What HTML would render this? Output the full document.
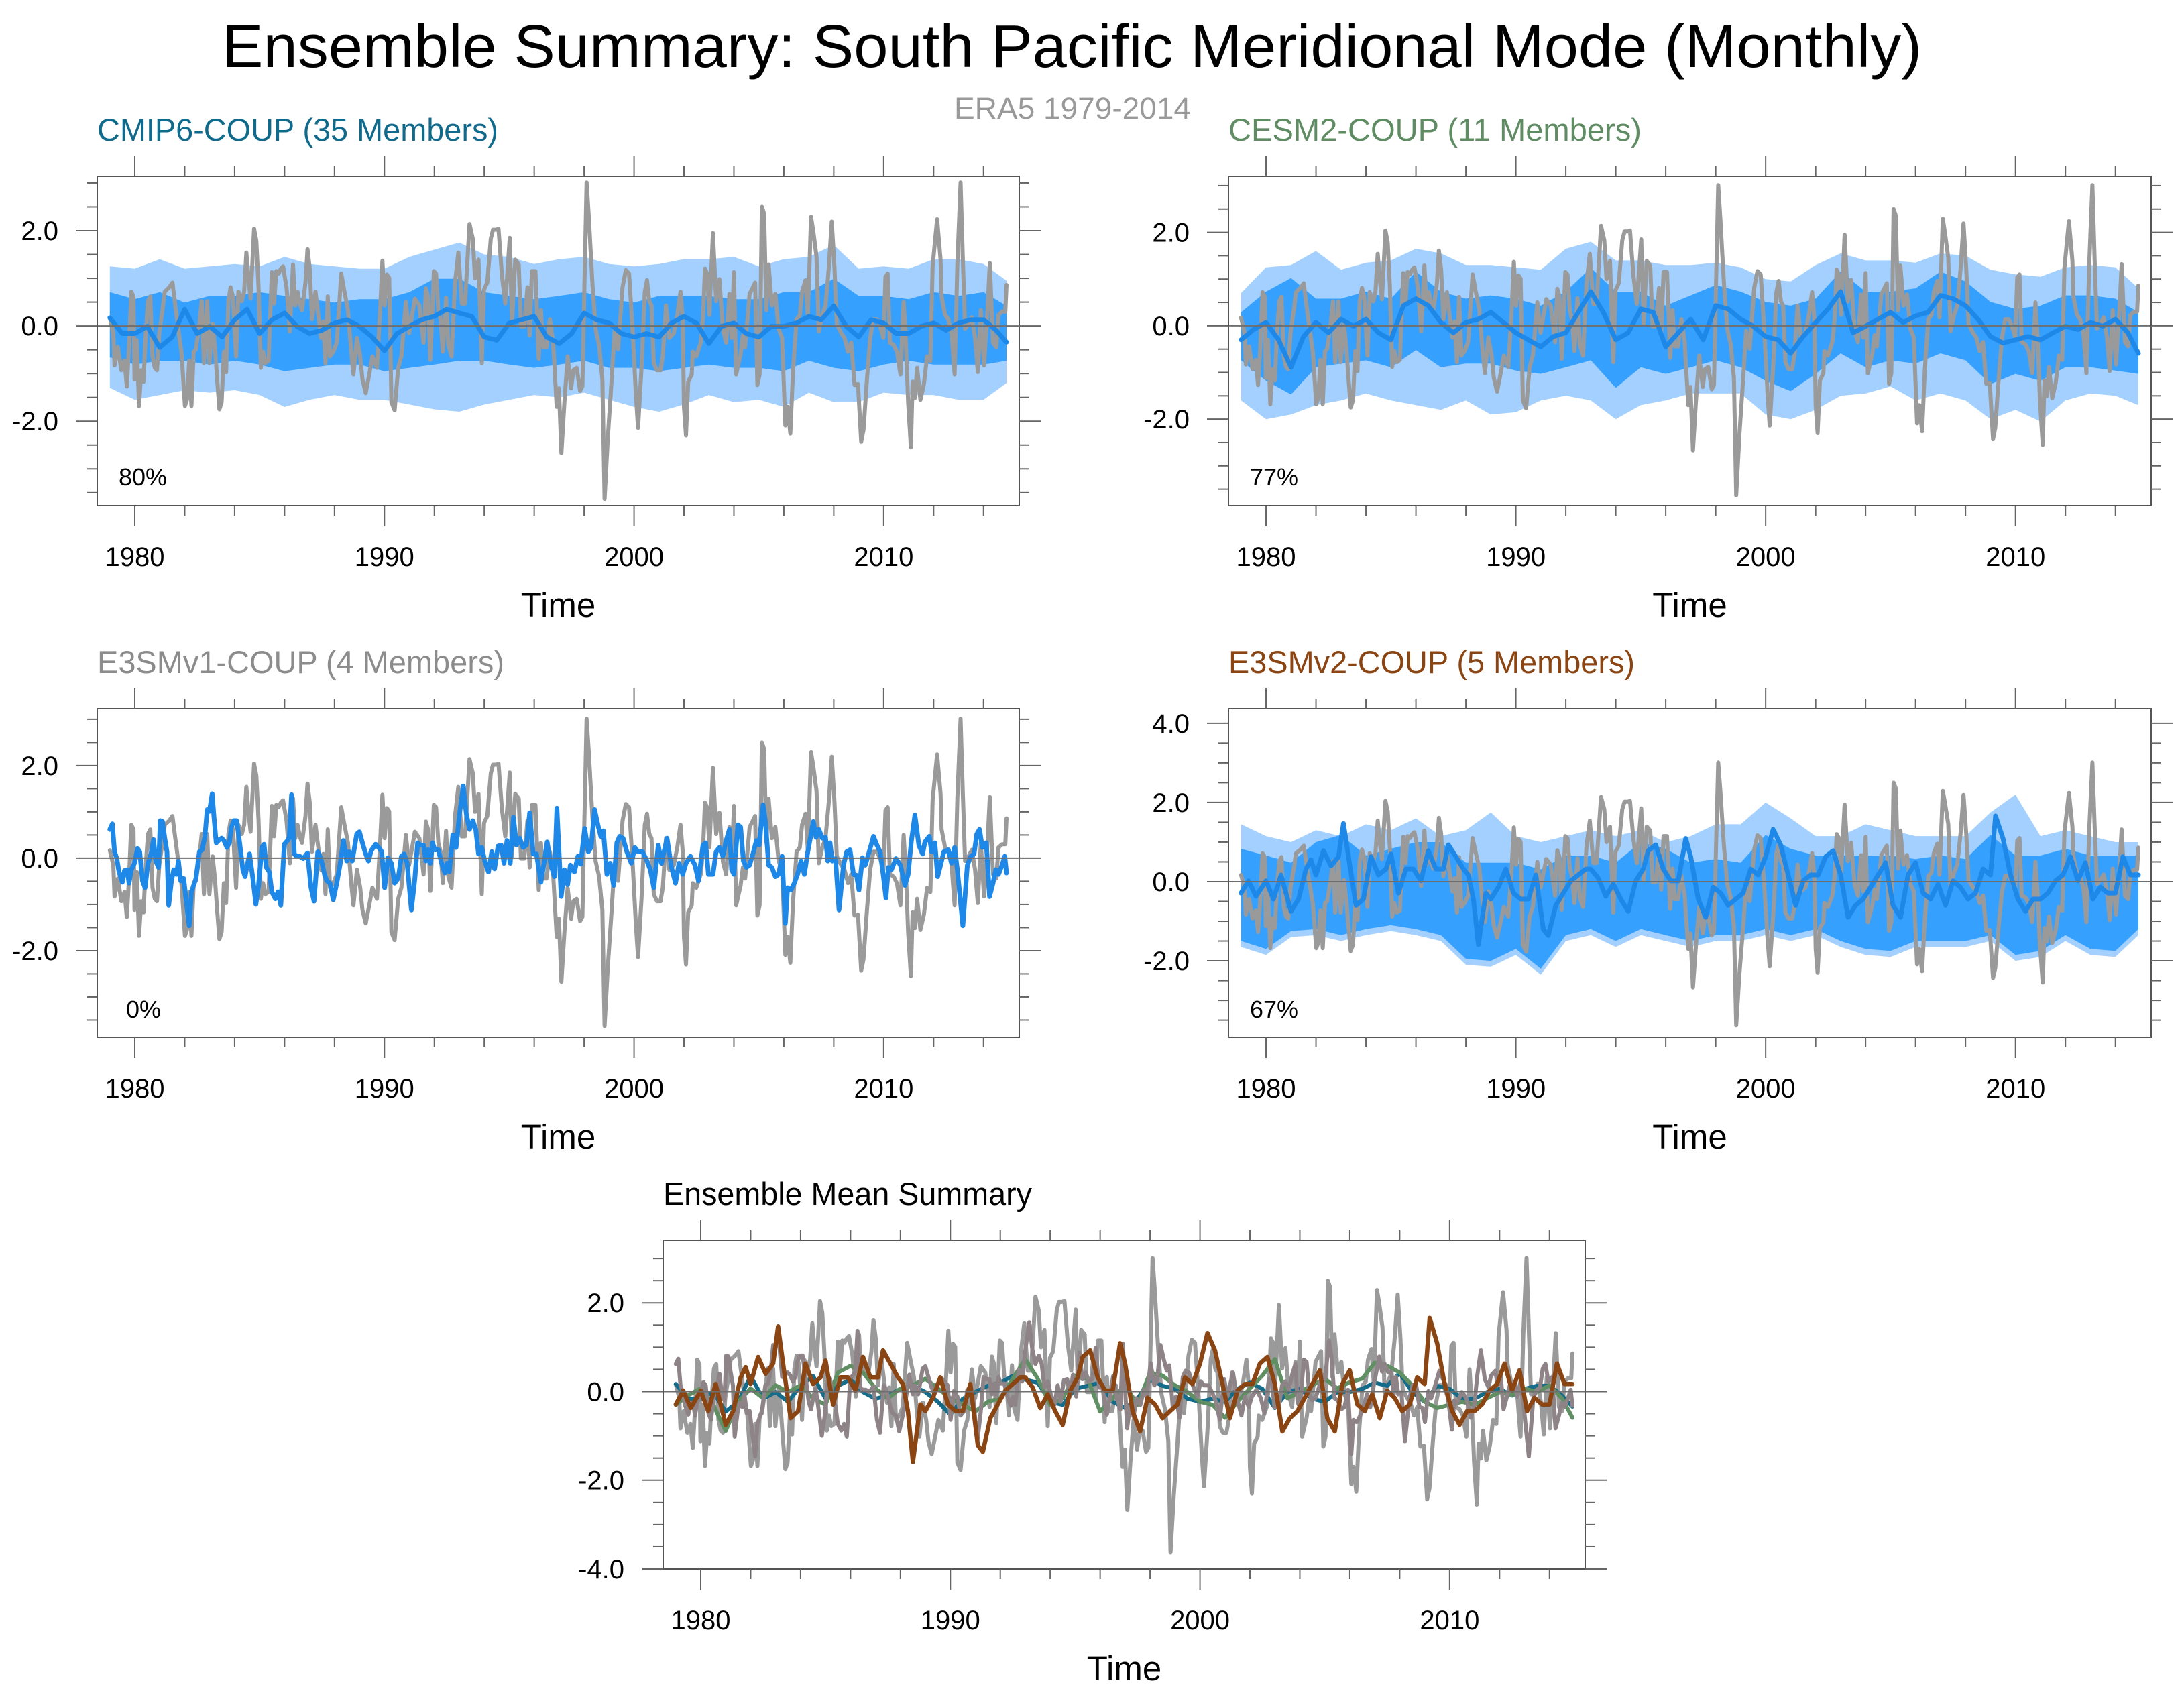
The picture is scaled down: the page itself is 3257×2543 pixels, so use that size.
<!DOCTYPE html>
<html>
<head>
<meta charset="utf-8">
<style>
  html,body{margin:0;padding:0;background:#fff;}
  svg{display:block;font-family:"Liberation Sans",Arial,sans-serif;}
</style>
</head>
<body>
<svg id="fig" xmlns="http://www.w3.org/2000/svg" width="3257" height="2543" viewBox="0 0 3257 2543">
  <rect x="0" y="0" width="3257" height="2543" fill="#ffffff"/>
  <text x="331" y="100" font-size="90" fill="#000" textLength="2535" lengthAdjust="spacingAndGlyphs">Ensemble Summary: South Pacific Meridional Mode (Monthly)</text>
  <text x="1423" y="177" font-size="45" fill="#999999" textLength="353" lengthAdjust="spacingAndGlyphs">ERA5 1979-2014</text>
</svg>
<script>
// ---------------- DATA ----------------
// ERA5 observed index (decimal year, value)
const era5Year = [1979.00,1979.14,1979.19,1979.32,1979.46,1979.59,1979.68,1979.77,1979.86,1979.95,1979.99,1980.08,1980.17,1980.26,1980.35,1980.44,1980.53,1980.62,1980.71,1980.80,1980.89,1980.98,1981.11,1981.20,1981.38,1981.51,1981.60,1981.74,1981.87,1982.01,1982.09,1982.18,1982.27,1982.36,1982.45,1982.59,1982.68,1982.77,1982.90,1982.99,1983.12,1983.21,1983.30,1983.39,1983.48,1983.57,1983.66,1983.75,1983.84,1983.93,1984.06,1984.15,1984.29,1984.38,1984.47,1984.55,1984.64,1984.78,1984.87,1984.96,1985.05,1985.14,1985.23,1985.36,1985.49,1985.58,1985.67,1985.76,1985.85,1985.94,1986.08,1986.21,1986.34,1986.43,1986.52,1986.61,1986.70,1986.84,1986.92,1987.01,1987.10,1987.24,1987.37,1987.46,1987.55,1987.64,1987.73,1987.82,1987.95,1988.09,1988.27,1988.40,1988.54,1988.67,1988.76,1988.90,1989.03,1989.12,1989.25,1989.39,1989.52,1989.70,1989.83,1989.92,1990.01,1990.10,1990.19,1990.28,1990.41,1990.55,1990.68,1990.86,1990.99,
1991.22,1991.40,1991.57,1991.66,1991.75,1991.84,1991.98,1992.07,1992.16,1992.25,1992.34,1992.47,1992.56,1992.69,1992.83,1992.96,1993.10,1993.23,1993.41,1993.54,1993.63,1993.77,1993.90,1993.99,1994.12,1994.26,1994.35,1994.48,1994.57,1994.71,1994.84,1995.02,1995.11,1995.24,1995.38,1995.47,1995.60,1995.73,1995.82,1995.91,1996.05,1996.18,1996.27,1996.36,1996.49,1996.63,1996.76,1996.90,1996.99,1997.09,1997.21,1997.34,1997.48,1997.57,1997.70,1997.84,1997.93,1998.01,1998.10,1998.19,1998.33,1998.46,1998.60,1998.73,1998.82,1998.95,1999.09,1999.22,1999.36,1999.54,1999.67,1999.80,1999.94,2000.07,2000.16,2000.30,2000.43,2000.52,2000.61,2000.70,2000.79,2000.92,2001.06,2001.15,2001.28,2001.41,2001.59,2001.73,2001.86,2001.95,2002.00,2002.08,2002.17,2002.31,2002.35,2002.49,2002.67,2002.76,2002.84,2002.93,2003.02,2003.16,2003.29,
2003.42,2003.56,2003.69,2003.82,2003.91,2004.00,2004.09,2004.27,2004.36,2004.45,2004.63,2004.85,2004.94,2005.03,2005.12,2005.21,2005.30,2005.39,2005.52,2005.66,2005.79,2005.93,2006.06,2006.15,2006.26,2006.37,2006.51,2006.64,2006.73,2006.87,2006.96,2007.09,2007.18,2007.31,2007.40,2007.54,2007.67,2007.80,2007.92,2008.03,2008.12,2008.30,2008.43,2008.57,2008.70,2008.83,2008.97,2009.10,2009.19,2009.33,2009.46,2009.59,2009.73,2009.86,2009.99,2010.07,2010.16,2010.25,2010.40,2010.53,2010.67,2010.80,2010.89,2010.98,2011.09,2011.16,2011.25,2011.34,2011.47,2011.61,2011.74,2011.87,2011.96,2012.14,2012.28,2012.32,2012.46,2012.59,2012.72,2012.84,2012.95,2013.08,2013.17,2013.26,2013.40,2013.53,2013.66,2013.77,2013.89,2014.02,2014.16,2014.25,2014.38,2014.51,2014.60,2014.74,2014.87,2014.92];
const era5Val = [0.17,-0.15,-0.83,-0.44,-0.93,-0.73,-1.27,-0.44,0.72,0.62,-1.12,-0.30,-1.68,-0.93,-1.17,-0.15,0.52,0.62,-0.64,-0.88,-0.93,-0.15,0.33,0.72,0.81,0.91,0.52,-0.06,-0.54,-1.68,-1.55,-0.73,-1.68,-0.54,-0.49,0.04,0.52,-0.78,0.52,-0.78,0.04,-0.44,-1.12,-1.75,-1.60,-0.54,-0.97,0.52,0.81,0.62,-0.64,0.72,0.52,0.72,1.54,1.01,0.57,2.04,1.78,0.81,-0.88,-0.54,-0.78,-0.73,1.13,0.47,1.15,1.10,1.20,1.25,0.81,-0.11,1.29,0.43,0.72,0.47,0.33,0.91,1.61,1.20,0.14,0.72,0.14,-0.25,0.09,-0.78,0.62,-0.64,-0.54,-0.35,1.10,0.72,0.33,-0.54,-1.02,-0.25,-0.64,-1.12,-1.41,-1.02,-0.64,-0.88,0.33,1.37,0.43,1.08,1.01,-1.60,-1.77,-0.88,-0.64,0.50,-0.15,
0.57,0.43,-0.35,0.79,0.62,-0.71,1.15,1.10,0.33,0.14,-0.54,0.59,-0.40,-0.64,0.91,1.54,0.47,0.47,2.14,1.83,1.00,1.39,-0.78,0.76,0.91,1.83,2.02,2.02,2.04,1.05,0.47,1.85,0.04,1.39,1.29,-0.01,-0.01,0.81,-0.20,1.15,1.15,-0.69,0.33,-0.44,-0.44,0.14,-0.35,-1.70,-1.31,-2.67,-1.60,-0.64,-1.31,-0.93,-0.88,-1.36,-1.27,0.81,3.01,2.26,0.91,-0.06,-0.40,-1.12,-3.63,-2.33,-1.22,-0.11,-0.49,0.81,1.17,1.10,-0.06,-1.41,-2.14,-0.88,0.72,0.96,0.52,0.43,-0.78,-0.93,-0.93,-0.64,0.43,-0.25,-0.15,0.23,0.72,0.14,-1.70,-2.30,-1.17,-1.02,-0.54,-0.64,-0.35,0.14,1.20,1.10,0.23,1.95,0.52,
0.98,-0.08,-0.35,0.67,-0.25,1.13,-1.02,-0.59,-0.20,-0.44,0.67,0.91,-1.24,-1.02,2.50,2.36,0.33,1.29,0.43,0.67,-0.06,-0.25,-2.09,-1.70,-2.26,-0.93,0.14,0.23,0.72,0.96,0.18,2.29,1.98,1.45,-0.11,0.23,0.43,1.20,2.19,1.20,0.04,-0.15,-0.25,-0.54,-0.35,-1.24,-1.22,-2.43,-2.19,-1.12,-0.25,0.14,0.14,-0.01,-0.25,1.03,1.10,-0.35,-0.40,-0.54,-1.02,0.50,-0.35,-1.60,-2.55,-1.17,-1.51,-0.88,-1.55,-1.22,-0.64,-0.73,1.25,2.24,1.39,0.62,0.23,0.14,-0.15,-1.02,1.29,3.01,1.39,-0.06,0.04,0.18,-0.25,-0.97,0.33,-0.83,0.33,1.32,-0.35,-0.44,0.23,0.30,0.30,0.86];

// E3SMv1 ensemble mean
const e3v1Year = [1979.00,1979.10,1979.19,1979.28,1979.37,1979.50,1979.59,1979.70,1979.77,1979.86,1979.99,1980.11,1980.20,1980.31,1980.41,1980.53,1980.65,1980.75,1980.84,1980.95,1981.02,1981.11,1981.20,1981.29,1981.36,1981.47,1981.56,1981.67,1981.75,1981.84,1981.96,1982.05,1982.18,1982.27,1982.45,1982.59,1982.70,1982.81,1982.90,1982.99,1983.10,1983.17,1983.26,1983.39,1983.48,1983.57,1983.69,1983.79,1983.87,1983.97,1984.08,1984.20,1984.33,1984.42,1984.49,1984.60,1984.73,1984.85,1984.96,1985.09,1985.18,1985.27,1985.39,1985.49,1985.63,1985.74,1985.85,1985.99,1986.12,1986.19,1986.28,1986.39,1986.48,1986.61,1986.75,1986.92,1987.06,1987.18,1987.33,1987.46,1987.60,1987.69,1987.82,1987.95,1988.09,1988.22,1988.36,1988.49,1988.58,1988.71,1988.89,1989.00,1989.12,1989.25,1989.36,1989.47,1989.65,1989.80,1989.89,1990.01,1990.14,1990.28,1990.41,1990.55,1990.68,1990.79,1990.91,1991.08,
1991.22,1991.33,1991.44,1991.57,1991.66,1991.75,1991.84,1991.93,1992.02,1992.16,1992.29,1992.42,1992.51,1992.60,1992.74,1992.87,1993.01,1993.16,1993.28,1993.41,1993.54,1993.66,1993.77,1993.90,1994.02,1994.17,1994.30,1994.41,1994.55,1994.68,1994.79,1994.91,1995.04,1995.17,1995.29,1995.42,1995.55,1995.69,1995.82,1995.96,1996.09,1996.27,1996.41,1996.52,1996.67,1996.81,1996.91,1997.08,1997.21,1997.34,1997.45,1997.61,1997.75,1997.86,1998.02,1998.17,1998.28,1998.42,1998.55,1998.67,1998.77,1998.91,1999.04,1999.18,1999.31,1999.42,1999.56,1999.71,1999.89,2000.03,2000.16,2000.34,2000.52,2000.65,2000.79,2000.97,2001.10,2001.32,2001.50,2001.66,2001.80,2001.95,2002.08,2002.26,2002.44,2002.58,2002.76,2002.87,2002.98,2003.16,2003.29,
2003.42,2003.56,2003.69,2003.82,2003.91,2004.00,2004.16,2004.27,2004.38,2004.50,2004.63,2004.76,2004.90,2005.01,2005.17,2005.27,2005.39,2005.52,2005.66,2005.79,2005.93,2006.06,2006.15,2006.28,2006.42,2006.55,2006.69,2006.82,2006.96,2007.06,2007.18,2007.29,2007.40,2007.54,2007.67,2007.76,2007.85,2007.94,2008.07,2008.21,2008.39,2008.52,2008.65,2008.79,2008.91,2009.01,2009.15,2009.26,2009.37,2009.59,2009.73,2009.86,2009.99,2010.09,2010.19,2010.31,2010.49,2010.67,2010.85,2010.98,2011.11,2011.25,2011.41,2011.56,2011.65,2011.83,2011.92,2012.05,2012.16,2012.28,2012.41,2012.59,2012.72,2012.84,2012.95,2013.17,2013.35,2013.49,2013.62,2013.73,2013.84,2013.95,2014.11,2014.24,2014.38,2014.49,2014.60,2014.74,2014.85,2014.92];
const e3v1Val = [0.62,0.74,0.14,-0.01,-0.30,-0.52,-0.27,-0.25,-0.54,-0.25,-0.11,0.21,0.14,-0.49,-0.64,-0.11,0.09,0.40,-0.06,-0.20,0.81,0.79,0.43,0.14,-1.02,-0.49,-0.25,-0.35,-0.06,-0.49,-0.44,-0.88,-1.46,-0.73,-0.44,0.14,0.18,0.47,1.05,1.01,1.39,0.91,0.33,0.40,0.43,0.38,0.23,0.33,0.67,0.81,0.81,0.33,-0.25,-0.40,-0.20,0.09,-0.44,-1.00,-0.59,0.23,0.30,-0.20,-0.30,-0.73,-0.88,-0.73,-1.02,0.30,0.38,0.45,1.37,0.09,0.04,0.04,-0.01,0.11,-0.64,-0.93,0.14,-0.01,-0.35,-0.49,-0.54,-0.90,-0.54,-0.15,0.38,-0.06,0.14,-0.06,0.52,0.57,0.33,0.09,-0.06,0.16,0.30,0.21,0.14,-0.64,0.01,-0.11,-0.54,-0.44,0.04,0.09,-0.11,-1.12,
-0.44,0.33,0.28,0.28,-0.06,0.18,-0.11,0.33,0.18,0.18,-0.11,-0.32,-0.11,-0.30,0.50,0.23,0.96,1.56,0.96,0.62,0.81,0.62,0.09,0.23,-0.06,-0.30,0.14,-0.23,0.26,0.28,-0.11,0.38,-0.11,0.88,0.28,0.43,0.23,0.28,0.98,0.09,0.09,-0.52,-0.06,0.35,-0.15,-0.40,1.08,-0.83,-0.25,-0.57,-0.15,-0.30,0.04,-0.13,0.64,0.14,0.23,1.05,0.72,0.47,0.59,-0.35,-0.11,-0.59,0.33,0.47,0.43,0.14,-0.11,0.23,0.14,0.14,-0.06,-0.25,-0.64,0.28,-0.11,0.43,-0.20,-0.54,-0.11,-0.35,-0.11,0.04,-0.15,-0.49,0.28,0.33,-0.35,-0.35,0.14,
0.23,0.04,0.38,0.62,-0.25,-0.35,0.72,0.67,-0.06,-0.20,-0.15,0.09,0.38,0.28,1.15,0.76,-0.15,-0.20,-0.40,-0.35,0.04,-1.41,-0.64,-0.69,-0.54,-0.35,-0.06,-0.35,0.14,0.43,0.79,0.45,0.62,0.43,0.45,-0.06,0.33,-0.06,-0.01,-1.12,-0.15,0.14,0.18,-0.35,-0.37,-0.69,0.01,-0.15,0.04,0.47,0.28,0.14,-0.40,-0.86,-0.20,-0.25,-0.01,-0.15,-0.59,-0.35,0.38,0.93,0.28,0.09,0.35,0.47,0.14,0.33,-0.40,-0.15,0.14,0.18,-0.11,0.23,-0.25,-1.46,-0.15,0.04,0.09,0.52,0.62,0.23,0.33,-0.83,-0.54,-0.25,-0.35,-0.15,0.04,-0.32];

// CMIP6 ensemble mean (half-yearly, 1979.0 ... 2014.5, then 2014.92)
const cmip6Mean = [0.17,-0.16,-0.16,-0.01,-0.45,-0.23,0.35,-0.16,-0.01,-0.23,0.13,0.35,-0.16,0.13,0.27,-0.01,-0.16,-0.09,0.06,0.13,-0.01,-0.23,-0.52,-0.16,-0.01,0.13,0.20,0.35,0.27,0.20,-0.23,-0.30,0.06,0.13,0.20,-0.23,-0.37,-0.16,0.27,0.13,0.06,-0.16,-0.23,-0.16,-0.23,0.06,0.20,0.06,-0.37,-0.01,0.06,-0.16,-0.23,-0.01,-0.01,0.06,0.20,0.13,0.42,-0.01,-0.23,0.13,0.06,-0.16,-0.16,-0.01,0.06,-0.09,0.06,0.13,0.13,-0.09,-0.34];
// CESM2 ensemble mean (half-yearly)
const cesm2Mean = [-0.30,-0.08,0.07,-0.30,-0.89,-0.23,0.07,-0.15,0.14,-0.01,0.14,-0.15,-0.30,0.43,0.58,0.43,0.07,-0.15,0.07,0.14,0.29,0.07,-0.15,-0.30,-0.45,-0.23,-0.15,0.29,0.73,0.29,-0.30,-0.15,0.36,0.29,-0.45,-0.15,0.14,-0.30,0.43,0.36,0.14,-0.01,-0.23,-0.30,-0.59,-0.23,0.07,0.36,0.73,-0.15,-0.01,0.14,0.29,0.07,0.21,0.29,0.65,0.58,0.43,0.14,-0.23,-0.37,-0.30,-0.23,-0.30,-0.15,-0.01,-0.08,0.07,-0.01,0.14,-0.15,-0.59];

// E3SMv2 ensemble mean
const e3v2Year = [1979.0,1979.3,1979.6,1980.0,1980.3,1980.6,1981.0,1981.3,1981.6,1981.8,1982.0,1982.3,1982.6,1982.9,1983.1,1983.3,1983.6,1983.9,1984.2,1984.5,1984.8,1985.0,1985.3,1985.6,1985.9,1986.2,1986.5,1986.8,1987.1,1987.3,1987.6,1987.9,1988.1,1988.3,1988.5,1988.8,1989.0,1989.3,1989.6,1989.9,1990.2,1990.5,1990.8,1991.1,1991.3,1991.6,1991.9,1992.2,1992.5,1992.8,1993.0,1993.3,1993.6,1993.9,1994.2,1994.5,1994.8,1995.1,1995.3,1995.6,1995.9,1996.2,1996.5,1996.8,1997.0,1997.3,1997.6,1997.9,1998.2,1998.5,1998.8,1999.1,1999.4,1999.7,2000.0,2000.3,2000.6,2000.9,2001.2,2001.5,2001.8,2002.1,2002.4,2002.7,2003.0,2003.3,2003.6,2003.9,2004.2,2004.5,2004.8,2005.1,2005.4,2005.7,2006.0,2006.3,2006.6,2006.9,2007.2,2007.5,2007.8,2008.1,2008.4,2008.7,2009.0,2009.2,2009.5,2009.8,2010.1,2010.4,2010.7,2011.0,2011.3,2011.6,2011.9,2012.2,2012.5,2012.8,2013.1,2013.4,2013.7,2014.0,2014.3,2014.6,2014.92];
const e3v2Val = [-0.29,0.02,-0.37,0.02,-0.44,0.17,-0.75,-0.44,0.32,0.55,0.17,0.78,0.40,0.63,1.47,0.63,-0.60,-0.44,0.63,0.17,0.32,0.70,-0.29,0.32,0.32,0.02,0.78,0.32,0.32,0.93,0.63,0.32,0.17,-0.44,-1.59,-0.29,-0.44,-0.14,0.32,-0.29,-0.44,-0.44,0.17,-1.21,-1.36,-0.60,-0.29,0.02,0.17,0.32,0.32,0.09,-0.37,-0.06,-0.44,-0.75,0.02,0.32,0.78,0.93,0.32,0.02,0.02,1.09,0.63,-0.44,-0.90,-0.14,-0.29,-0.60,-0.44,-0.29,0.32,0.17,0.63,1.32,0.93,0.17,-0.60,0.02,0.17,0.17,0.63,0.78,0.17,-0.90,-0.60,-0.44,-0.14,0.17,0.48,-0.60,-0.90,0.17,0.48,-0.29,-0.44,-0.06,-0.60,0.02,-0.14,-0.44,-0.29,0.32,0.17,1.66,1.09,0.17,-0.44,-0.75,-0.44,-0.44,-0.29,0.02,0.17,0.63,0.02,0.48,-0.44,-0.14,-0.29,-0.29,0.63,0.17,0.17];

// Ensemble spread bands (annual, 1979 ... 2014, then 2014.92)
const cmip6OuterHi = [1.25,1.2,1.4,1.2,1.25,1.3,1.25,1.45,1.3,1.25,1.2,1.2,1.45,1.6,1.75,1.5,1.45,1.3,1.4,1.45,1.3,1.25,1.3,1.4,1.4,1.45,1.25,1.4,1.45,1.7,1.2,1.25,1.2,1.4,1.4,1.3,0.95];
const cmip6OuterLo = [-1.3,-1.55,-1.45,-1.35,-1.4,-1.35,-1.45,-1.7,-1.55,-1.45,-1.55,-1.55,-1.65,-1.75,-1.8,-1.65,-1.55,-1.45,-1.5,-1.4,-1.55,-1.7,-1.8,-1.65,-1.45,-1.6,-1.55,-1.7,-1.4,-1.6,-1.6,-1.4,-1.45,-1.45,-1.55,-1.55,-1.2];
const cmip6InnerHi = [0.71,0.56,0.71,0.49,0.63,0.63,0.71,0.63,0.56,0.49,0.56,0.56,0.71,0.99,0.99,0.71,0.63,0.56,0.63,0.71,0.56,0.49,0.63,0.63,0.63,0.56,0.56,0.71,0.71,0.99,0.63,0.63,0.56,0.71,0.63,0.71,0.42];
const cmip6InnerLo = [-0.66,-0.81,-0.73,-0.73,-0.81,-0.73,-0.81,-0.95,-0.88,-0.81,-0.81,-0.95,-0.88,-0.81,-0.73,-0.73,-0.81,-0.88,-0.81,-0.73,-0.88,-0.88,-0.95,-0.88,-0.81,-0.88,-0.88,-0.95,-0.73,-0.88,-0.95,-0.81,-0.73,-0.81,-0.81,-0.81,-0.73];
const cesm2OuterHi = [0.7,1.25,1.3,1.6,1.2,1.35,1.4,1.65,1.55,1.3,1.3,1.25,1.2,1.65,1.8,1.4,1.4,1.3,1.3,1.35,1.25,1.0,0.95,1.3,1.55,1.4,1.4,1.35,1.55,1.5,1.2,1.1,1.05,1.25,1.3,1.25,0.8];
const cesm2OuterLo = [-1.6,-2.0,-1.9,-1.7,-1.6,-1.45,-1.6,-1.7,-1.8,-1.6,-1.9,-1.85,-1.6,-1.5,-1.6,-2.0,-1.7,-1.6,-1.45,-1.45,-1.45,-1.9,-2.0,-1.8,-1.5,-1.45,-1.3,-1.6,-1.45,-1.6,-2.0,-1.8,-2.05,-1.6,-1.45,-1.5,-1.7];
const cesm2InnerHi = [0.29,0.73,1.02,0.58,0.58,0.73,0.58,1.16,0.73,0.58,0.65,0.58,0.43,0.73,1.24,0.73,0.73,0.43,0.65,0.87,0.73,0.51,0.43,0.58,1.16,0.73,0.73,0.80,1.16,0.95,0.51,0.36,0.43,0.65,0.65,0.58,0.29];
const cesm2InnerLo = [-0.74,-1.18,-1.47,-0.89,-0.81,-0.74,-0.89,-0.52,-0.89,-0.81,-0.81,-0.96,-1.03,-0.89,-0.74,-1.33,-0.89,-1.03,-0.89,-0.74,-0.89,-1.18,-1.40,-1.03,-0.59,-0.89,-0.74,-0.81,-0.59,-0.74,-1.25,-1.03,-1.18,-0.89,-0.89,-0.96,-1.03];
const e3v2OuterHi = [1.45,1.15,1.0,1.3,1.15,1.45,1.3,1.6,1.15,1.3,1.75,1.15,1.0,1.15,1.3,1.15,1.3,1.0,1.15,1.45,1.45,2.0,1.6,1.15,1.15,1.45,1.3,1.15,1.15,1.15,1.75,2.2,1.15,1.3,1.15,1.0,1.0];
const e3v2OuterLo = [-1.65,-1.85,-1.4,-1.35,-1.5,-1.35,-1.25,-1.35,-1.5,-2.1,-2.15,-1.85,-2.35,-1.5,-1.35,-1.65,-1.35,-1.5,-1.65,-1.5,-1.5,-1.35,-1.5,-1.35,-1.65,-1.85,-1.9,-1.65,-1.65,-1.65,-1.5,-2.0,-1.9,-1.5,-1.85,-1.9,-1.35];
const e3v2InnerHi = [0.83,0.66,0.48,1.0,1.18,0.66,0.83,1.0,1.0,0.48,0.48,0.48,0.31,0.66,0.66,0.48,1.0,0.83,0.48,0.57,0.48,1.18,0.83,0.66,0.66,0.66,0.66,0.57,0.66,0.57,1.18,0.66,0.66,0.83,0.66,0.66,0.66];
const e3v2InnerLo = [-1.5,-1.7,-1.25,-1.2,-1.35,-1.2,-1.1,-1.2,-1.35,-1.95,-2.0,-1.7,-2.2,-1.35,-1.2,-1.5,-1.2,-1.35,-1.5,-1.35,-1.35,-1.2,-1.35,-1.2,-1.5,-1.7,-1.75,-1.5,-1.5,-1.5,-1.35,-1.85,-1.75,-1.35,-1.7,-1.75,-1.2];

const yearTickLabels = ["1980","1990","2000","2010"];
const percentLabels = ["80%","77%","0%","67%"];

// ---------------- RENDER ----------------
const NS = "http://www.w3.org/2000/svg";
const svg = document.getElementById("fig");
function mk(tag, attrs, parent) {
  const e = document.createElementNS(NS, tag);
  for (const k in attrs) e.setAttribute(k, attrs[k]);
  (parent || svg).appendChild(e);
  return e;
}
// regular time grids for half-yearly / annual series
const halfYearT = []; for (let i = 0; i < 72; i++) halfYearT.push(1979 + i * 0.5); halfYearT.push(2014.92);
const annualT = []; for (let i = 0; i < 36; i++) annualT.push(1979 + i); annualT.push(2014.92);

const X0 = 1978.496, X1 = 2015.43;
const C_LIGHT = "#a3d0ff", C_DARK = "#36a0ff", C_MEAN = "#1e88e8", C_ERA = "#9a9a9a";

function panel(cfg, idx) {
  const g = mk("g", {});
  
  
  const sx = t => cfg.x0 + (t - X0) / (X1 - X0) * (cfg.x1 - cfg.x0);
  const sy = v => cfg.y1 - (v - cfg.ymin) / (cfg.ymax - cfg.ymin) * (cfg.y1 - cfg.y0);
  const clipId = "clip" + idx;
  const cp = mk("clipPath", { id: clipId }, g);
  mk("rect", { x: cfg.x0, y: cfg.y0, width: cfg.x1 - cfg.x0, height: cfg.y1 - cfg.y0 }, cp);
  const plot = mk("g", { "clip-path": "url(#" + clipId + ")" }, g);
  
  

  function band(hi, lo, color, nm) {
    let pts = annualT.map((t, i) => sx(t).toFixed(1) + "," + sy(hi[i]).toFixed(1));
    for (let i = annualT.length - 1; i >= 0; i--) pts.push(sx(annualT[i]).toFixed(1) + "," + sy(lo[i]).toFixed(1));
    const p = mk("polygon", { points: pts.join(" "), fill: color, stroke: "none" }, plot);
    
    
  }
  function line(ts, vs, color, w, nm) {
    const pts = ts.map((t, i) => sx(t).toFixed(1) + "," + sy(vs[i]).toFixed(1)).join(" ");
    const p = mk("polyline", { points: pts, fill: "none", stroke: color, "stroke-width": w, "stroke-linejoin": "round", "stroke-linecap": "round" }, plot);
    
    
  }
  if (cfg.bands) {
    band(cfg.bands[0], cfg.bands[1], C_LIGHT, "outer-spread-band");
    band(cfg.bands[2], cfg.bands[3], C_DARK, "inner-spread-band");
  }
  if (cfg.summary) {
    line(era5Year, era5Val, C_ERA, 6, "era5-line");
    line(halfYearT, cmip6Mean, "#146b8a", 6, "cmip6-mean-line");
    line(halfYearT, cesm2Mean, "#5f8f63", 6, "cesm2-mean-line");
    line(e3v1Year, e3v1Val, "#8e8488", 6, "e3smv1-mean-line");
    line(e3v2Year, e3v2Val, "#8b4513", 6.5, "e3smv2-mean-line");
  } else {
    line(era5Year, era5Val, C_ERA, 6, "era5-line");
    line(cfg.meanT, cfg.meanV, C_MEAN, 7, "ensemble-mean-line");
  }
  // zero reference line
  const z = mk("line", { x1: cfg.x0, x2: cfg.x1, y1: sy(0), y2: sy(0), stroke: "#6f6f6f", "stroke-width": 2 }, g);
  
  
  // frame
  const fr = mk("rect", { x: cfg.x0, y: cfg.y0, width: cfg.x1 - cfg.x0, height: cfg.y1 - cfg.y0, fill: "none", stroke: "#555", "stroke-width": 2 }, g);
  
  
  // x ticks
  const tk = mk("g", { stroke: "#666", "stroke-width": 2 }, g);
  
  
  for (let yr = 1980; yr <= 2014; yr += 2) {
    const L = (yr % 10 === 0) ? 31 : 15, x = sx(yr);
    mk("line", { x1: x, x2: x, y1: cfg.y0, y2: cfg.y0 - L }, tk);
    mk("line", { x1: x, x2: x, y1: cfg.y1, y2: cfg.y1 + L }, tk);
  }
  yearTickLabels.forEach(lbl => {
    const t = mk("text", { x: sx(+lbl), y: cfg.y1 + 90, "font-size": 40, "text-anchor": "middle", fill: "#000" }, g);
    t.textContent = lbl;
    
    
  });
  // y ticks
  for (let v = Math.ceil(cfg.ymin * 2) / 2; v <= cfg.ymax; v += 0.5) {
    const major = Math.abs(v / 2 - Math.round(v / 2)) < 1e-6;
    const L = major ? 32 : 15, y = sy(v);
    mk("line", { x1: cfg.x0, x2: cfg.x0 - L, y1: y, y2: y }, tk);
    mk("line", { x1: cfg.x1, x2: cfg.x1 + L, y1: y, y2: y }, tk);
    if (major) {
      const t = mk("text", { x: cfg.x0 - 58, y: y + 14, "font-size": 40, "text-anchor": "end", fill: "#000" }, g);
      t.textContent = v.toFixed(1);
      
      
    }
  }
  const xt = mk("text", { x: (cfg.x0 + cfg.x1) / 2, y: cfg.y1 + 166, "font-size": 51, "text-anchor": "middle", fill: "#000" }, g);
  xt.textContent = "Time";
  
  
  const tt = mk("text", { x: cfg.x0, y: cfg.y0 - 53, "font-size": 47, fill: cfg.tcolor, textLength: cfg.tw, lengthAdjust: "spacingAndGlyphs" }, g);
  tt.textContent = cfg.title;
  
  
  if (cfg.pct) {
    const pt = mk("text", { x: cfg.x0 + (cfg.pct === "0%" ? 43 : 32), y: cfg.y0 + 461, "font-size": 36, fill: "#000" }, g);
    pt.textContent = cfg.pct;
    
    
  }
}

const panels = [
  { name: "panel-cmip6", x0: 145, x1: 1520, y0: 263, y1: 754, ymin: -3.77, ymax: 3.14, title: "CMIP6-COUP (35 Members)", tcolor: "#0f6a8c", tw: 598, pct: percentLabels[0],
    bands: [cmip6OuterHi, cmip6OuterLo, cmip6InnerHi, cmip6InnerLo], meanT: halfYearT, meanV: cmip6Mean },
  { name: "panel-cesm2", x0: 1832, x1: 3208, y0: 263, y1: 754, ymin: -3.85, ymax: 3.2, title: "CESM2-COUP (11 Members)", tcolor: "#5f8c63", tw: 616, pct: percentLabels[1],
    bands: [cesm2OuterHi, cesm2OuterLo, cesm2InnerHi, cesm2InnerLo], meanT: halfYearT, meanV: cesm2Mean },
  { name: "panel-e3smv1", x0: 145, x1: 1520, y0: 1057, y1: 1547, ymin: -3.87, ymax: 3.23, title: "E3SMv1-COUP (4 Members)", tcolor: "#8c8c8c", tw: 607, pct: percentLabels[2],
    bands: null, meanT: e3v1Year, meanV: e3v1Val },
  { name: "panel-e3smv2", x0: 1832, x1: 3208, y0: 1057, y1: 1547, ymin: -3.93, ymax: 4.37, title: "E3SMv2-COUP (5 Members)", tcolor: "#8b4513", tw: 606, pct: percentLabels[3],
    bands: [e3v2OuterHi, e3v2OuterLo, e3v2InnerHi, e3v2InnerLo], meanT: e3v2Year, meanV: e3v2Val },
  { name: "panel-ensemble-mean-summary", x0: 989, x1: 2364, y0: 1850, y1: 2340, ymin: -4.0, ymax: 3.41, title: "Ensemble Mean Summary", tcolor: "#000", tw: 550, pct: null,
    bands: null, summary: true }
];
panels.forEach((p, i) => panel(p, i));
</script>
</body>
</html>
